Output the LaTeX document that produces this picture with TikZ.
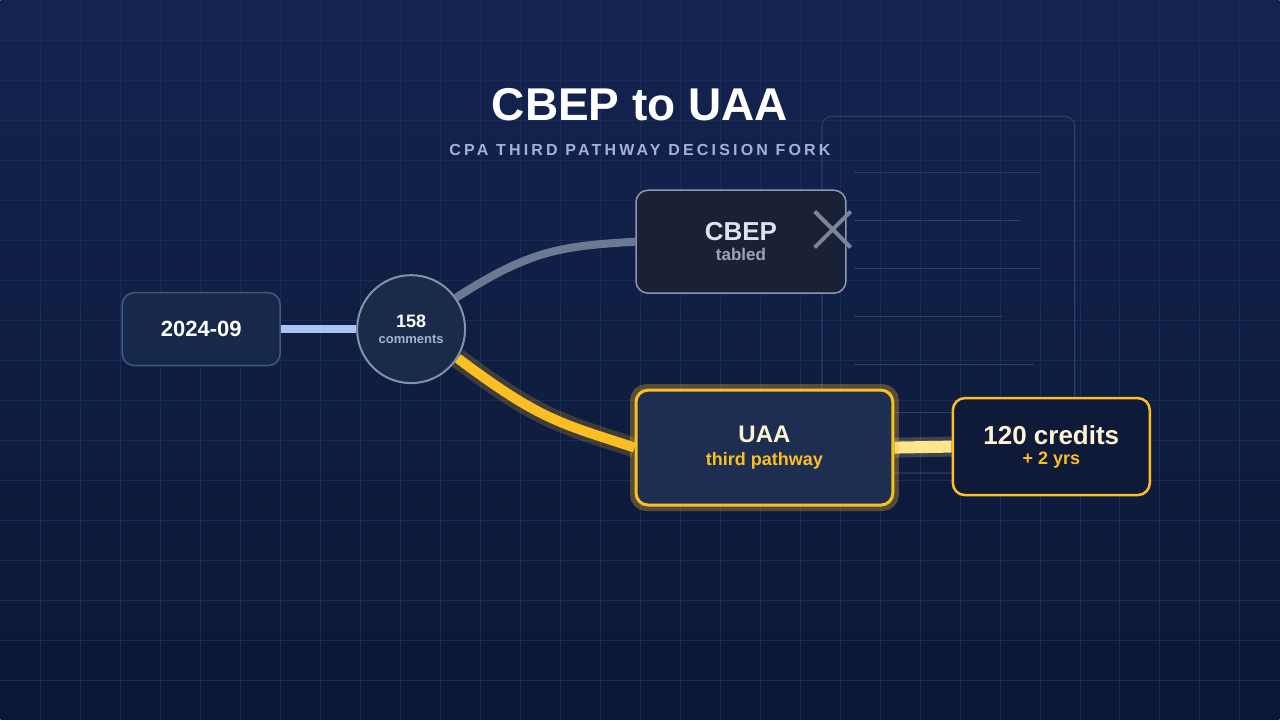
\documentclass[tikz,border=0pt]{standalone}
\usepackage{fontspec}
\setmainfont{Liberation Sans}
\usetikzlibrary{positioning,calc,backgrounds}
\definecolor{bgtop}{HTML}{142450}
\definecolor{bgbot}{HTML}{0B1734}
\definecolor{gridc}{HTML}{1A2C56}
\definecolor{docc}{HTML}{2A3F68}
\definecolor{gold}{HTML}{FBBF24}
\definecolor{paleblue}{HTML}{A8C4F0}
\definecolor{subc}{HTML}{9FB3D8}
\definecolor{slate}{HTML}{6B7A92}
\definecolor{crossc}{HTML}{7A8599}
\definecolor{paleyel}{HTML}{FDE68A}
\definecolor{datefill}{HTML}{16294A}
\definecolor{dateline}{HTML}{3E5A86}
\definecolor{hubfill}{HTML}{1A2B4A}
\definecolor{hubline}{HTML}{8391AA}
\definecolor{cbepfill}{HTML}{1A2036}
\definecolor{cbepline}{HTML}{8A99B0}
\definecolor{cbeptext}{HTML}{DDE3EE}
\definecolor{tabledc}{HTML}{9AA5B8}
\definecolor{uaafill}{HTML}{1E2E50}
\definecolor{credfill}{HTML}{0F1A38}
\definecolor{cream}{HTML}{FFF5D6}

\begin{document}
\begin{tikzpicture}[x=1pt,y=-1pt,
    box/.style={rectangle, rounded corners=12pt, draw, line width=1.5pt, align=center, font=\bfseries},
    wire/.style={line width=8pt, line cap=butt}
]

% Nodes
\node[box, fill=datefill, draw=dateline, text=white, minimum width=158pt, minimum height=73pt, font=\fontsize{22}{24}\selectfont\bfseries] (date) at (201,329) {2024-09};
\node[circle, draw=hubline, fill=hubfill, line width=2pt, minimum size=108pt, align=center] (hub) at (411,329)
  {\fontsize{18}{20}\selectfont\bfseries\textcolor{white}{158}\\[4pt]\fontsize{13}{15}\selectfont\bfseries\textcolor{subc}{comments}};
\node[box, fill=cbepfill, draw=cbepline, minimum width=210pt, minimum height=103pt] (cbep) at (741,241.5)
  {\fontsize{26}{28}\selectfont\textcolor{cbeptext}{CBEP}\\[6pt]\fontsize{17}{19}\selectfont\textcolor{tabledc}{tabled}};
\node[box, fill=uaafill, draw=gold, line width=3pt, minimum width=257pt, minimum height=115pt] (uaa) at (764.5,447.5)
  {\fontsize{24}{26}\selectfont\textcolor{cream}{UAA}\\[8pt]\fontsize{18}{20}\selectfont\textcolor{gold}{third pathway}};
\node[box, fill=credfill, draw=gold, line width=2.5pt, minimum width=197pt, minimum height=97pt] (cred) at (1051.5,446.5)
  {\fontsize{26}{28}\selectfont\textcolor{cream}{120 credits}\\[6pt]\fontsize{18}{20}\selectfont\textcolor{gold}{+ 2 yrs}};

% Cross on CBEP
\draw[crossc, line width=4pt] ($(cbep.north east)+(-32,22)$) -- ++(36,36);
\draw[crossc, line width=4pt] ($(cbep.north east)+(4,22)$) -- ++(-36,36);

\begin{scope}[on background layer]
% Background
\shade[top color=bgtop, bottom color=bgbot] (0,0) rectangle (1280,720);
\foreach \i in {40,80,...,1240} \draw[gridc, line width=0.6pt] (\i,0) -- (\i,720);
\foreach \j in {40,80,...,680} \draw[gridc, line width=0.6pt] (0,\j) -- (1280,\j);

% Document sketch
\draw[docc, line width=1.2pt, rounded corners=10pt] (822,116) rectangle (1075,473);
\foreach \y/\e in {172/1040,220/1020,268/1040,316/1003,364/1034,412/1040}
  \draw[docc, line width=1.2pt] (854,\y) -- (\e,\y);

% Title
\node[text=white, font=\fontsize{46}{50}\selectfont\bfseries] (title) at (640,104) {CBEP to UAA};
\node[text=subc, font=\fontsize{16}{18}\selectfont\bfseries\addfontfeature{LetterSpace=20}] (sub) at (640,150) {CPA THIRD PATHWAY DECISION FORK};

% Connectors
\draw[wire, paleblue] (date.east) -- (hub.west);
\draw[wire, slate] (hub.35) .. controls (530,250) and (560,246) .. (cbep.west);
\draw[line width=20pt, gold, opacity=0.2] (hub.-32) .. controls (540,420) and (560,423) .. (uaa.west);
\draw[line width=10pt, gold] (hub.-32) .. controls (540,420) and (560,423) .. (uaa.west);
\draw[line width=20pt, paleyel, opacity=0.2] (uaa.east) -- (cred.west);
\draw[line width=12pt, paleyel] (uaa.east) -- (cred.west);
\draw[gold, opacity=0.3, line width=9pt, rounded corners=12pt] (uaa.south west) rectangle (uaa.north east);
\end{scope}
\useasboundingbox (0,0) rectangle (1280,720);

\end{tikzpicture}
\end{document}
